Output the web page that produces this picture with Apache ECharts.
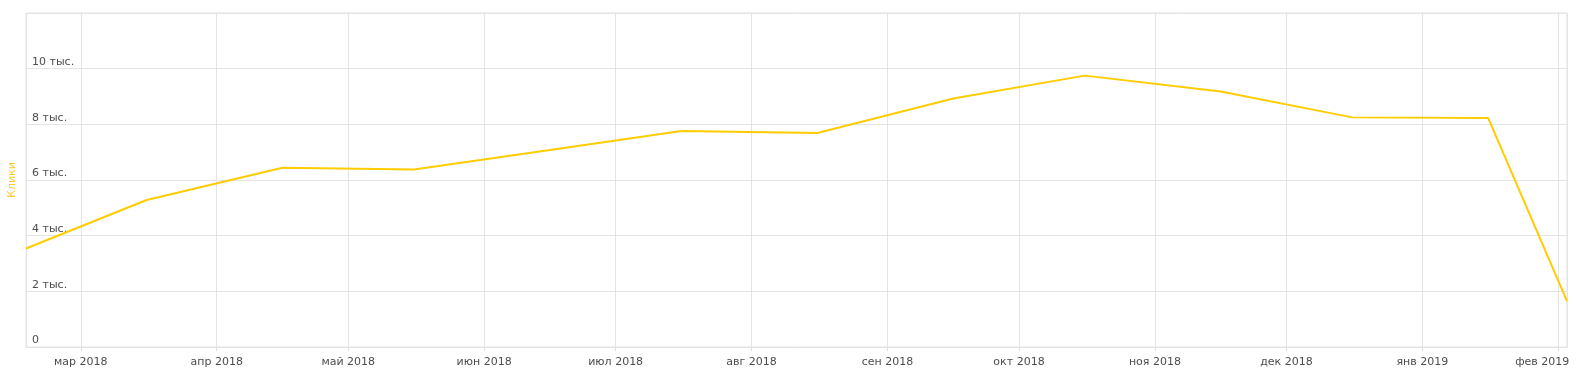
<!DOCTYPE html>
<html>
<head>
<meta charset="utf-8">
<script src="https://cdn.jsdelivr.net/npm/echarts@6/dist/echarts.min.js"></script>
<style>
html,body{margin:0;padding:0;background:#fff;}
#chart{width:1579px;height:380px;}
</style>
</head>
<body>
<div id="chart"></div>
<script>
// Data
var dates = ['2018-02-16 12:00', '2018-03-16', '2018-04-16', '2018-05-16', '2018-06-16', '2018-07-16',
             '2018-08-16', '2018-09-16', '2018-10-16', '2018-11-16', '2018-12-16', '2019-01-16', '2019-02-03'];
var clicks = [3540, 5280, 6440, 6380, 7080, 7760, 7690, 8930, 9750, 9180, 8250, 8230, 1650];
var monthNames = ['янв', 'фев', 'мар', 'апр', 'май', 'июн', 'июл', 'авг', 'сен', 'окт', 'ноя', 'дек'];
var yTickLabels = ['0', '2 тыс.', '4 тыс.', '6 тыс.', '8 тыс.', '10 тыс.', ''];
var xMin = '2018-02-16 12:00';
var xMax = '2019-02-03';

var seriesData = dates.map(function (d, i) { return [d, clicks[i]]; });
var DAY = 86400000;
var font = 'DejaVu Sans, Verdana, sans-serif';
var maxTime = new Date(xMax).getTime();

var chart = echarts.init(document.getElementById('chart'));
chart.setOption({
  animation: false,
  grid: {
    left: 26, right: 12, top: 13, bottom: 33,
    outerBoundsMode: 'none',
    containLabel: false,
    show: true, borderColor: '#e4e4e4', borderWidth: 1
  },
  xAxis: {
    type: 'time',
    min: xMin,
    max: xMax,
    minInterval: 28 * DAY,
    maxInterval: 31 * DAY,
    axisLine: { show: true, lineStyle: { color: '#e4e4e4' } },
    axisTick: { show: true, length: 4, lineStyle: { color: '#e0e0e0' } },
    splitLine: { show: true, lineStyle: { color: '#e4e4e4', width: 1 } },
    axisLabel: {
      color: '#4d4d4d',
      fontSize: 11,
      fontFamily: font,
      margin: 10,
      hideOverlap: false,
      rich: {
        last: { color: '#4d4d4d', fontSize: 11, fontFamily: font, padding: [0, 32, 0, 0] }
      },
      formatter: function (val) {
        var d = new Date(val);
        if (d.getDate() !== 1) return '';
        var txt = monthNames[d.getMonth()] + ' ' + d.getFullYear();
        if (maxTime - d.getTime() < 20 * DAY) return '{last|' + txt + '}';
        return txt;
      }
    }
  },
  yAxis: {
    type: 'value',
    min: 0,
    max: 12000,
    interval: 2000,
    name: 'Клики',
    nameLocation: 'middle',
    nameRotate: 90,
    nameGap: 8,
    nameTextStyle: { color: '#ffcc33', fontSize: 11, fontFamily: font },
    axisLine: { show: false },
    axisTick: { show: false },
    splitLine: { show: true, lineStyle: { color: '#e4e4e4', width: 1 } },
    axisLabel: {
      inside: true,
      color: '#4d4d4d',
      fontSize: 11,
      fontFamily: font,
      margin: 6,
      verticalAlign: 'bottom',
      padding: [0, 0, 1, 0],
      formatter: function (v) { return yTickLabels[Math.round(v / 2000)]; }
    }
  },
  series: [{
    type: 'line',
    data: seriesData,
    showSymbol: false,
    symbol: 'none',
    lineStyle: { color: '#ffcc00', width: 2 },
    itemStyle: { color: '#ffcc00' }
  }]
});
</script>
</body>
</html>
